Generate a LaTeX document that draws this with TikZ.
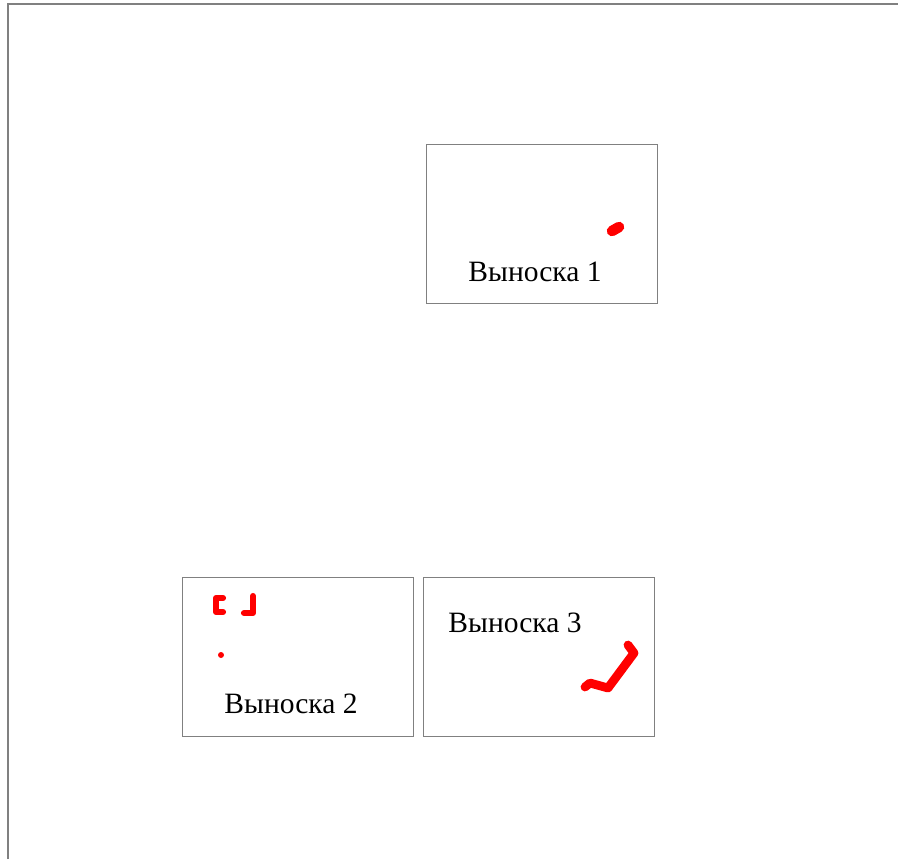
\documentclass[tikz,border=0pt]{standalone}
\usepackage{fontspec}
\setmainfont{Liberation Serif}
\usetikzlibrary{positioning}

\begin{document}
\begin{tikzpicture}[x=0.02cm, y=-0.02cm]
	\def \w {231}
	\def \h {159}
	\tikzset{
		frame/.style={draw=black!50, line width=0.6pt},
		callout/.style={frame, rectangle, minimum width=\w*0.02cm, minimum height=\h*0.02cm, inner sep=0pt},
		caption/.style={font=\fontsize{16.8}{18}\selectfont, inner sep=0pt},
		scribble/.style={red, line width=5pt, line cap=round, line join=round}
	}
	\useasboundingbox (0,0) rectangle (898,859);
	\draw[frame] (8,859) -- (8,4) -- (898,4);

	\foreach \name/\x/\y in {box1/426/144, box2/182/577, box3/423/577}
	{
		\node[callout, anchor=north west] (\name) at (\x,\y) {};
	}

	\node[caption] (label1) at (535,272) {Выноска 1};
	\node[caption] (label2) at (291,704) {Выноска 2};
	\node[caption] (label3) at (515,623) {Выноска 3};

	\draw[scribble, line width=6pt] (612,231) -- (619,227);
	\draw[scribble, line width=3.5pt] (223,612) -- (216,612) -- (216,598) -- (223,598);
	\draw[scribble, line width=3.5pt] (253,596) -- (253,613) -- (244,613);
	\fill[red] (221,655) circle (3);
	\draw[scribble] (585,687) -- (590,683) -- (608,688) -- (634,653) -- (628,645);
\end{tikzpicture}
\end{document}
